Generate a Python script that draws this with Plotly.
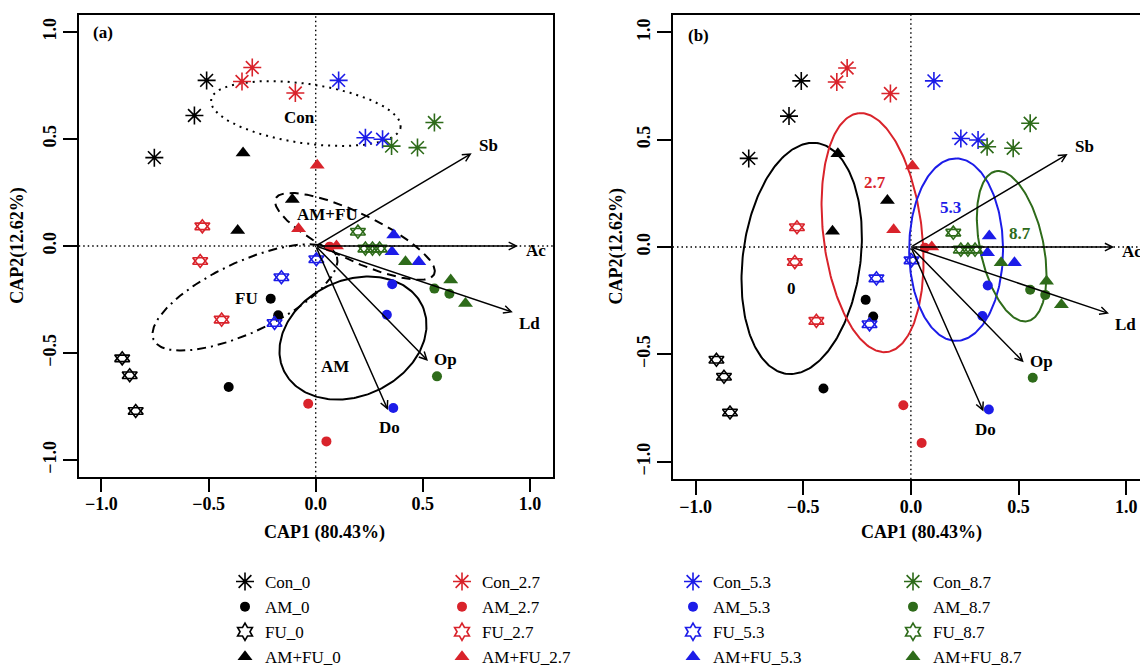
import numpy as np
import plotly.graph_objects as go

W, H = 1140, 668

# ---------------- data ----------------
levels = ["0", "2.7", "5.3", "8.7"]
treatments = ["Con", "AM", "FU", "AM+FU"]

# CAP1 / CAP2 site scores: one list per level (0, 2.7, 5.3, 8.7)
con_x = [[-0.509, -0.566, -0.753], [-0.344, -0.296, -0.095], [0.107, 0.232, 0.312], [0.354, 0.475, 0.554]]
con_y = [[0.774, 0.610, 0.413], [0.769, 0.834, 0.715], [0.774, 0.506, 0.499], [0.467, 0.460, 0.577]]
am_x = [[-0.210, -0.175, -0.406], [-0.035, 0.050, 0.065], [0.357, 0.332, 0.362], [0.554, 0.624, 0.566]]
am_y = [[-0.246, -0.324, -0.659], [-0.737, -0.913, -0.003], [-0.179, -0.321, -0.757], [-0.199, -0.223, -0.609]]
fu_x = [[-0.903, -0.868, -0.840], [-0.529, -0.539, -0.439], [0.003, -0.160, -0.192], [0.197, 0.232, 0.265, 0.298]]
fu_y = [[-0.525, -0.604, -0.771], [0.092, -0.070, -0.344], [-0.062, -0.146, -0.360], [0.067, -0.012, -0.012, -0.012]]
amfu_x = [[-0.339, -0.109, -0.364], [0.007, -0.080, 0.097], [0.364, 0.356, 0.481], [0.419, 0.630, 0.699]]
amfu_y = [[0.435, 0.217, 0.073], [0.377, 0.081, 0.000], [0.051, -0.027, -0.073], [-0.073, -0.159, -0.269]]

# environmental vectors
vec_names = ["Sb", "Ac", "Ld", "Op", "Do"]
vec_x = [0.728, 0.944, 0.920, 0.524, 0.337]
vec_y = [0.433, 0.000, -0.310, -0.537, -0.766]

# panel (a): ellipses per treatment (centre, semi-axes, angle in degrees)
ella_cx = [-0.046, 0.174, -0.330, 0.183]
ella_cy = [0.619, -0.430, -0.240, 0.045]
ella_a = [0.447, 0.357, 0.470, 0.410]
ella_b = [0.139, 0.270, 0.165, 0.110]
ella_ang = [-8.2, 25.0, 25.0, -25.6]
ella_lx = [-0.075, 0.092, -0.323, 0.057]
ella_ly = [0.601, -0.564, -0.244, 0.145]

# panel (b): ellipses per level
ellb_cx = [-0.507, -0.178, 0.210, 0.468]
ellb_cy = [-0.053, 0.067, -0.012, 0.004]
ellb_a = [0.542, 0.560, 0.425, 0.357]
ellb_b = [0.273, 0.229, 0.218, 0.147]
ellb_ang = [82.6, 96.8, 90.0, 102.0]
ellb_lx = [-0.553, -0.168, 0.182, 0.506]
ellb_ly = [-0.192, 0.300, 0.185, 0.064]

# ---------------- style ----------------
level_colors = ["#000000", "#D9232B", "#1C1CE8", "#2E6B1A"]
# FU is drawn as a Star of David: two overlapping open triangles
trt_symbols = [["asterisk-open"], ["circle"], ["triangle-up-open", "triangle-down-open"], ["triangle-up"]]
trt_legend_symbol = ["asterisk-open", "circle", "hexagram-open", "triangle-up"]
trt_sizes = [15, 10, 13, 13]
ella_dash = ["2px,5px", "solid", "9px,5px,2px,5px", "9px,6px"]

SERIF = "Liberation Serif"
bold = dict(family=SERIF, size=17, color="black", weight="bold")
tick_font = dict(family=SERIF, size=18, color="black", weight="bold")

scores_x = [con_x, am_x, fu_x, amfu_x]
scores_y = [con_y, am_y, fu_y, amfu_y]

fig = go.Figure()


def ellipse_pts(cx, cy, a, b, ang):
    t = np.linspace(0, 2 * np.pi, 240)
    th = np.deg2rad(ang)
    ex = cx + a * np.cos(th) * np.cos(t) - b * np.sin(th) * np.sin(t)
    ey = cy + a * np.sin(th) * np.cos(t) + b * np.cos(th) * np.sin(t)
    return ex, ey


# ellipses panel a
for i in range(4):
    ex, ey = ellipse_pts(ella_cx[i], ella_cy[i], ella_a[i], ella_b[i], ella_ang[i])
    fig.add_trace(go.Scatter(x=ex, y=ey, mode="lines", xaxis="x", yaxis="y",
                             line=dict(color="black", width=2, dash=ella_dash[i]),
                             showlegend=False, hoverinfo="skip"))
# ellipses panel b
for j in range(4):
    ex, ey = ellipse_pts(ellb_cx[j], ellb_cy[j], ellb_a[j], ellb_b[j], ellb_ang[j])
    fig.add_trace(go.Scatter(x=ex, y=ey, mode="lines", xaxis="x2", yaxis="y2",
                             line=dict(color=level_colors[j], width=2),
                             showlegend=False, hoverinfo="skip"))


def mk(sym, size, col):
    return dict(symbol=sym, size=size, color=col,
                line=dict(color=col, width=1.6 if "open" in sym else 0))


# points
legend_keys = ["legend", "legend2", "legend3", "legend4"]
for j, lvl in enumerate(levels):
    for i, trt in enumerate(treatments):
        col = level_colors[j]
        name = f"{trt}_{lvl}"
        single = len(trt_symbols[i]) == 1
        for xa, ya in (("x", "y"), ("x2", "y2")):
            for sym in trt_symbols[i]:
                fig.add_trace(go.Scatter(x=scores_x[i][j], y=scores_y[i][j], mode="markers",
                                         xaxis=xa, yaxis=ya, marker=mk(sym, trt_sizes[i], col),
                                         name=name, legendgroup=name, legend=legend_keys[j],
                                         showlegend=(single and xa == "x")))
        if not single:
            # legend key for the star-of-David symbol
            fig.add_trace(go.Scatter(x=[None], y=[None], mode="markers", xaxis="x", yaxis="y",
                                     marker=mk(trt_legend_symbol[i], 13, col), name=name,
                                     legendgroup=name, legend=legend_keys[j], showlegend=True))

annotations = []
shapes = []
vec_shift = {"Sb": (17, 8), "Ac": (18, -4), "Ld": (17, -11), "Op": (18, 1), "Do": (2, -18)}
for xr, yr in (("x", "y"), ("x2", "y2")):
    for n, vx, vy in zip(vec_names, vec_x, vec_y):
        annotations.append(dict(x=vx, y=vy, ax=0, ay=0, xref=xr, yref=yr, axref=xr, ayref=yr,
                                showarrow=True, arrowhead=5, arrowsize=1, arrowwidth=1.5,
                                arrowcolor="black", standoff=0, startstandoff=0, text=""))
        annotations.append(dict(x=vx, y=vy, xref=xr, yref=yr, text=n, showarrow=False,
                                xshift=vec_shift[n][0], yshift=vec_shift[n][1], font=bold))
    # dotted zero lines
    shapes.append(dict(type="line", xref=xr, yref=f"{yr} domain", x0=0, x1=0, y0=0, y1=1,
                       line=dict(color="black", width=1.4, dash="1.5px,3px"), layer="below"))
    shapes.append(dict(type="line", xref=f"{xr} domain", yref=yr, x0=0, x1=1, y0=0, y1=0,
                       line=dict(color="black", width=1.4, dash="1.5px,3px"), layer="below"))

for i in range(4):
    annotations.append(dict(x=ella_lx[i], y=ella_ly[i], xref="x", yref="y", text=treatments[i],
                            showarrow=False, font=bold))
    annotations.append(dict(x=ellb_lx[i], y=ellb_ly[i], xref="x2", yref="y2", text=levels[i],
                            showarrow=False, font=dict(bold, color=level_colors[i])))

annotations.append(dict(x=-0.993, y=0.999, xref="x", yref="y", text="(a)", showarrow=False, font=bold))
annotations.append(dict(x=-0.984, y=0.987, xref="x2", yref="y2", text="(b)", showarrow=False, font=bold))

title_font = dict(family=SERIF, size=18, color="black", weight="bold")
for px, py in ((324.6, 532.5), (921.8, 532.5)):
    annotations.append(dict(x=px / W, y=1 - py / H, xref="paper", yref="paper", text="CAP1 (80.43%)",
                            showarrow=False, font=title_font, xanchor="center", yanchor="middle"))
for px, py in ((18, 245.7), (615.5, 247)):
    annotations.append(dict(x=px / W, y=1 - py / H, xref="paper", yref="paper", text="CAP2(12.62%)",
                            showarrow=False, font=title_font, textangle=-90,
                            xanchor="center", yanchor="middle"))

tickvals = [-1, -0.5, 0, 0.5, 1]
ticktext = ["\u22121.0", "\u22120.5", "0.0", "0.5", "1.0"]


def axis(domain, rng, mirror=True, angle=0, standoff=0):
    return dict(domain=domain, range=rng, tickvals=tickvals, ticktext=ticktext,
                ticks="outside", ticklen=14, tickwidth=1.5, tickcolor="black",
                showline=True, linecolor="black", linewidth=1.5, mirror=mirror,
                showgrid=False, zeroline=False, tickfont=tick_font, tickangle=angle,
                ticklabelstandoff=standoff, fixedrange=True)


layout = dict(
    width=W, height=H, margin=dict(l=0, r=0, t=0, b=0, autoexpand=False),
    paper_bgcolor="white", plot_bgcolor="white",
    xaxis=dict(axis([78.7 / W, 552.7 / W], [-1.106, 1.106], standoff=-4), anchor="y"),
    yaxis=dict(axis([1 - 476.7 / H, 1 - 14.7 / H], [-1.078, 1.081], angle=-90), anchor="x"),
    xaxis2=dict(axis([672.5 / W, 1.0], [-1.107, 1.064], standoff=-4), anchor="y2"),
    yaxis2=dict(axis([1 - 479.3 / H, 1 - 15 / H], [-1.082, 1.081], mirror=False, angle=-90), anchor="x2"),
    annotations=annotations, shapes=shapes, showlegend=True,
)

leg_x = [225, 442, 673, 893]
for j, key in enumerate(legend_keys):
    layout[key] = dict(x=leg_x[j] / W, y=1 - 564 / H, xanchor="left", yanchor="top",
                       orientation="v", bgcolor="rgba(0,0,0,0)", borderwidth=0,
                       tracegroupgap=0, font=dict(family=SERIF, size=17, color="black"))

fig.update_layout(**layout)
fig.write_html("out.html", config={"displayModeBar": False})
